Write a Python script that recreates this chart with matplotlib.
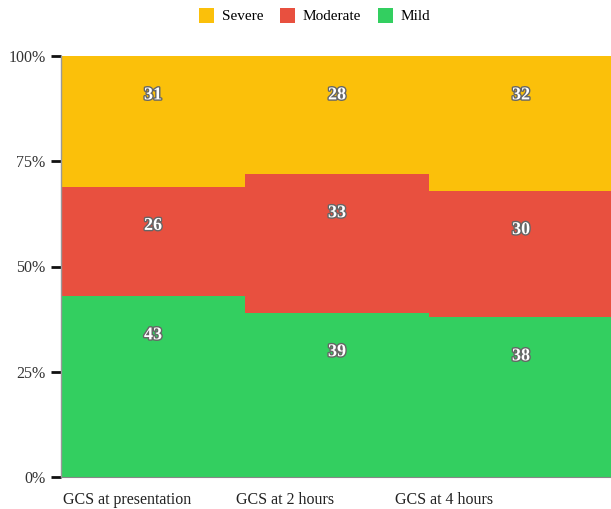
import matplotlib
matplotlib.use("Agg")
import matplotlib.pyplot as plt
import matplotlib.patheffects as pe
from matplotlib.patches import Patch
import numpy as np

categories = ["GCS at presentation", "GCS at 2 hours", "GCS at 4 hours"]
mild = [43, 39, 38]
moderate = [26, 33, 30]
severe = [31, 28, 32]
series_names = ["Severe", "Moderate", "Mild"]
colors = {"Severe": "#FBC00A", "Moderate": "#E8503F", "Mild": "#33CF60"}

plt.rcParams['font.family'] = ['Liberation Serif', 'DejaVu Serif']

fig = plt.figure(figsize=(6.11, 5.09), dpi=100)
ax = fig.add_axes([61/611, 32/509, (613-61)/611, 421/509])

x = np.arange(len(categories))
stack = [("Mild", mild), ("Moderate", moderate), ("Severe", severe)]
bottom = np.zeros(len(categories))
for name, vals in stack:
    vals = np.array(vals, dtype=float)
    ax.bar(x, vals, width=1.0, bottom=bottom, color=colors[name], linewidth=0, label=name)
    tops = bottom + vals
    for xi, t, v in zip(x, tops, vals):
        ax.annotate(f"{int(v)}", xy=(xi, t), xytext=(0, -28), textcoords="offset points",
                    ha="center", va="center", color="white", fontsize=13, fontweight="bold",
                    path_effects=[pe.withStroke(linewidth=2, foreground="#666666")])
    bottom = tops

ax.set_xlim(-0.5, 2.5)
ax.set_ylim(0, 100)
ax.set_yticks([0, 25, 50, 75, 100])
ax.set_yticklabels(["0%", "25%", "50%", "75%", "100%"], fontsize=11.5, color="#333333")
ax.tick_params(axis="y", length=7, width=2, color="#111111", pad=4)

ax.set_xticks(x * 0.86 - 0.14)
ax.set_xticklabels(categories, fontsize=11.5, color="#222222")
ax.tick_params(axis="x", length=0, pad=11)

for s in ["top", "right"]:
    ax.spines[s].set_visible(False)
ax.spines["left"].set_color("#999999")
ax.spines["left"].set_linewidth(1)
ax.spines["bottom"].set_color("#888888")
ax.spines["bottom"].set_linewidth(0.8)

handles = [Patch(facecolor=colors[n], edgecolor="none", label=n) for n in series_names]
fig.legend(handles=handles, loc="upper center", bbox_to_anchor=(0.515, 1.012), ncol=3,
           frameon=False, fontsize=11, handlelength=1.0, handleheight=1.15,
           handletextpad=0.5, columnspacing=1.1)

fig.savefig("out.png", dpi=100)
